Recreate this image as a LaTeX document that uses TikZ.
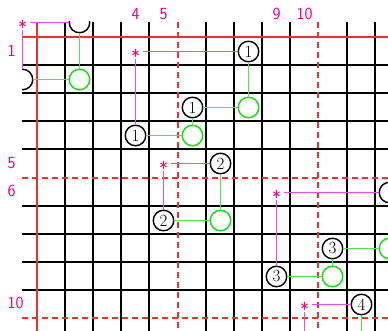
\documentclass[tikz,border=0pt]{standalone}
\definecolor{gline}{RGB}{70,235,70}
\definecolor{gcirc}{RGB}{20,225,20}
\definecolor{mline}{RGB}{245,70,245}
\definecolor{rline}{RGB}{245,45,45}
\begin{document}
\begin{tikzpicture}[x=1pt,y=-1pt,
  gridline/.style={black,line width=1.8pt},
  redline/.style={rline,line width=2pt},
  reddash/.style={rline,line width=2pt,dash pattern=on 6pt off 4pt},
  numcirc/.style={circle,draw=black,fill=white,line width=1.4pt,minimum size=20.5pt,inner sep=0pt,font=\fontsize{17}{17}\selectfont},
  greencirc/.style={circle,draw=gcirc,fill=white,line width=1.5pt,minimum size=20.5pt,inner sep=0pt},
  starpt/.style={circle,minimum size=15pt,inner sep=0pt},
  startext/.style={text=magenta,font=\fontsize{19}{19}\selectfont\sffamily,inner sep=0pt,yshift=-4.5pt},
  magline/.style={mline,line width=1.5pt},
  grline/.style={gline,line width=1.8pt},
  lab/.style={text=magenta,font=\fontsize{17}{17}\selectfont\sffamily,inner sep=0pt}]

\useasboundingbox (0,0) rectangle (388,331);

% axis labels
\node[lab] (c4) at (135.5,14) {4};
\node[lab] (c5) at (163.5,14) {5};
\node[lab] (c9) at (276.5,14) {9};
\node[lab] (c10) at (304.5,14) {10};
\node[lab,anchor=west] (r1) at (7.5,51) {1};
\node[lab,anchor=west] (r5) at (7.5,163) {5};
\node[lab,anchor=west] (r6) at (7.5,191) {6};
\node[lab,anchor=west] (r10) at (7.5,303) {10};

% star anchor points
\node[starpt] (s0) at (22.5,22.5) {};
\node[starpt] (s1) at (135.5,51.5) {};
\node[starpt] (s2) at (163.5,163.5) {};
\node[starpt] (s3) at (276.5,192.5) {};
\node[starpt] (s4) at (304.5,304.5) {};

\begin{scope}
\clip (22,22) rectangle (388,331);
% grid
\foreach \x in {65,93,121,149,206,234,262,290,347,375}
  \draw[gridline] (\x,22) -- (\x,331);
\foreach \y in {65,93,121,149,206,234,262,290}
  \draw[gridline] (22,\y) -- (388,\y);
\draw[redline] (37,22) -- (37,331);
\draw[redline] (22,37) -- (388,37);
\draw[reddash] (178,22) -- (178,331);
\draw[reddash] (318,22) -- (318,331);
\draw[reddash] (22,178) -- (388,178);
\draw[reddash] (22,318) -- (388,318);

% group 0
\node[numcirc] (b0a) at (79.5,22.5) {};
\node[numcirc] (b0b) at (22.5,79.5) {};
\node[greencirc] (g0) at (79.5,79.5) {};
% group 1
\node[numcirc] (b1a) at (248.5,51.5) {1};
\node[numcirc] (b1b) at (135.5,135.5) {1};
\node[greencirc] (g1a) at (192.5,135.5) {};
\node[numcirc] (b1c) at (192.5,107.5) {1};
\node[greencirc] (g1b) at (248.5,107.5) {};
% group 2
\node[numcirc] (b2a) at (220.5,163.5) {2};
\node[numcirc] (b2b) at (163.5,220.5) {2};
\node[greencirc] (g2) at (220.5,220.5) {};
% group 3
\node[numcirc] (b3a) at (389.5,192.5) {};
\node[numcirc] (b3b) at (276.5,276.5) {3};
\node[greencirc] (g3a) at (332.5,276.5) {};
\node[numcirc] (b3c) at (332.5,248.5) {3};
\node[greencirc] (g3b) at (389.5,248.5) {};
% group 4
\node[numcirc] (b4a) at (361.5,304.5) {4};
\node[numcirc] (b4b) at (304.5,360.5) {};
\node[greencirc] (g4) at (361.5,360.5) {};

% connectors
\draw[magline] (s0) -- (b0a);
\draw[magline] (s0) -- (b0b);
\draw[grline] (b0b) -- (g0);
\draw[grline] (g0) -- (b0a);

\draw[magline] (s1) -- (b1a);
\draw[magline] (s1) -- (b1b);
\draw[grline] (b1b) -- (g1a);
\draw[grline] (g1a) -- (b1c);
\draw[grline] (b1c) -- (g1b);
\draw[grline] (g1b) -- (b1a);

\draw[magline] (s2) -- (b2a);
\draw[magline] (s2) -- (b2b);
\draw[grline] (b2b) -- (g2);
\draw[grline] (g2) -- (b2a);

\draw[magline] (s3) -- (b3a);
\draw[magline] (s3) -- (b3b);
\draw[grline] (b3b) -- (g3a);
\draw[grline] (g3a) -- (b3c);
\draw[grline] (b3c) -- (g3b);

\draw[magline] (s4) -- (b4a);
\draw[magline] (s4) -- (b4b);
\draw[grline] (b4a) -- (g4);
\end{scope}

% star glyphs
\node[startext] (t0) at (s0) {*};
\node[startext] (t1) at (s1) {*};
\node[startext] (t2) at (s2) {*};
\node[startext] (t3) at (s3) {*};
\node[startext] (t4) at (s4) {*};
\end{tikzpicture}
\end{document}
